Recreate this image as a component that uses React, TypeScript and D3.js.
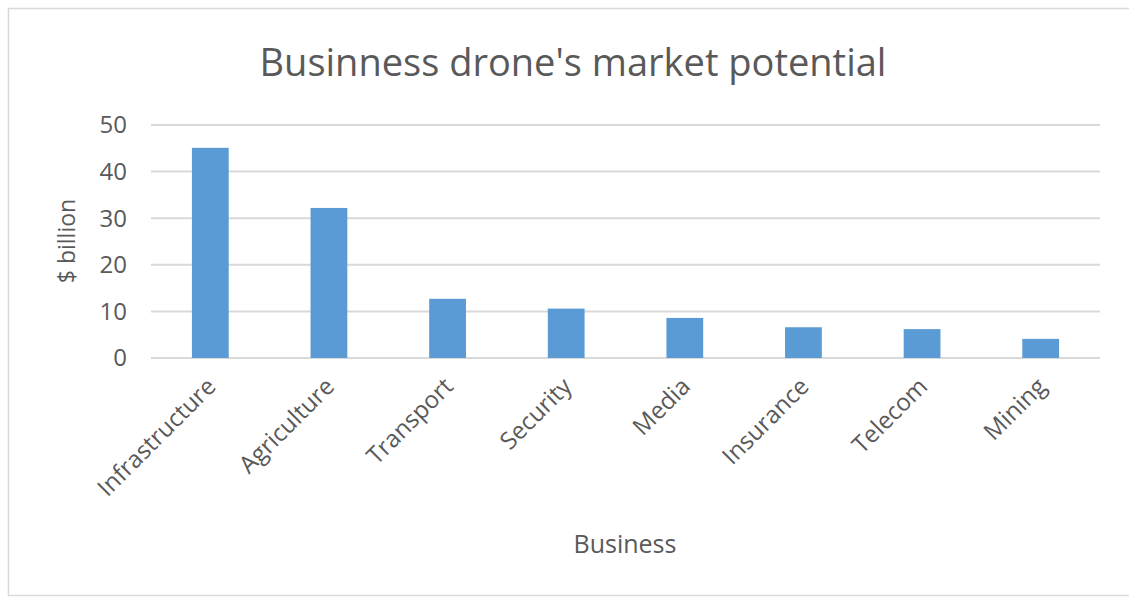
import React from "react";
import * as d3 from "d3";

const categories = ["Infrastructure", "Agriculture", "Transport", "Security", "Media", "Insurance", "Telecom", "Mining"];
const values = [45.1, 32.2, 12.7, 10.6, 8.6, 6.6, 6.2, 4.1];
const yTicks = [0, 10, 20, 30, 40, 50];
const title = "Businness drone's market potential";
const yLabel = "$ billion";
const xLabel = "Business";

const W = 1129, H = 597;
const left = 151, right = 1100, top = 125, bottom = 358;
const font = "'Open Sans', 'Noto Sans', sans-serif";
const textColor = "#595959";

export default function App() {
  const x = d3.scaleBand<string>().domain(categories).range([left, right]).paddingInner(0.69).paddingOuter(0.345);
  const y = d3.scaleLinear().domain([0, 50]).range([bottom, top]);
  return (
    <svg width={W} height={H} style={{ position: "absolute", left: 0, top: 0, background: "#fff" }}>
      <rect x={8.5} y={8.5} width={W + 10} height={587} fill="#fff" stroke="#d9d9d9" strokeWidth={1.5} />
      <text x={573} y={76} textAnchor="middle" fontFamily={font} fontSize={38} fill={textColor}>{title}</text>
      {yTicks.map((t) => (
        <g key={t}>
          <line x1={left} x2={right} y1={y(t)} y2={y(t)} stroke="#d9d9d9" strokeWidth={2} />
          <text x={127} y={y(t)} dy="0.35em" textAnchor="end" fontFamily={font} fontSize={24} fill={textColor}>{t}</text>
        </g>
      ))}
      {categories.map((c, i) => (
        <rect key={c} x={x(c)} y={y(values[i])} width={x.bandwidth()} height={y(0) - y(values[i])} fill="#5b9bd5" />
      ))}
      {categories.map((c) => {
        const cx = (x(c) as number) + x.bandwidth() / 2 + 1;
        return (
          <text key={c} transform={`translate(${cx},${382}) rotate(-45)`} textAnchor="end" dy="0.35em" fontFamily={font} fontSize={24} fill={textColor}>{c}</text>
        );
      })}
      <text transform={`translate(75,241) rotate(-90)`} textAnchor="middle" fontFamily={font} fontSize={23} fill={textColor}>{yLabel}</text>
      <text x={625} y={553} textAnchor="middle" fontFamily={font} fontSize={25} fill={textColor}>{xLabel}</text>
    </svg>
  );
}
